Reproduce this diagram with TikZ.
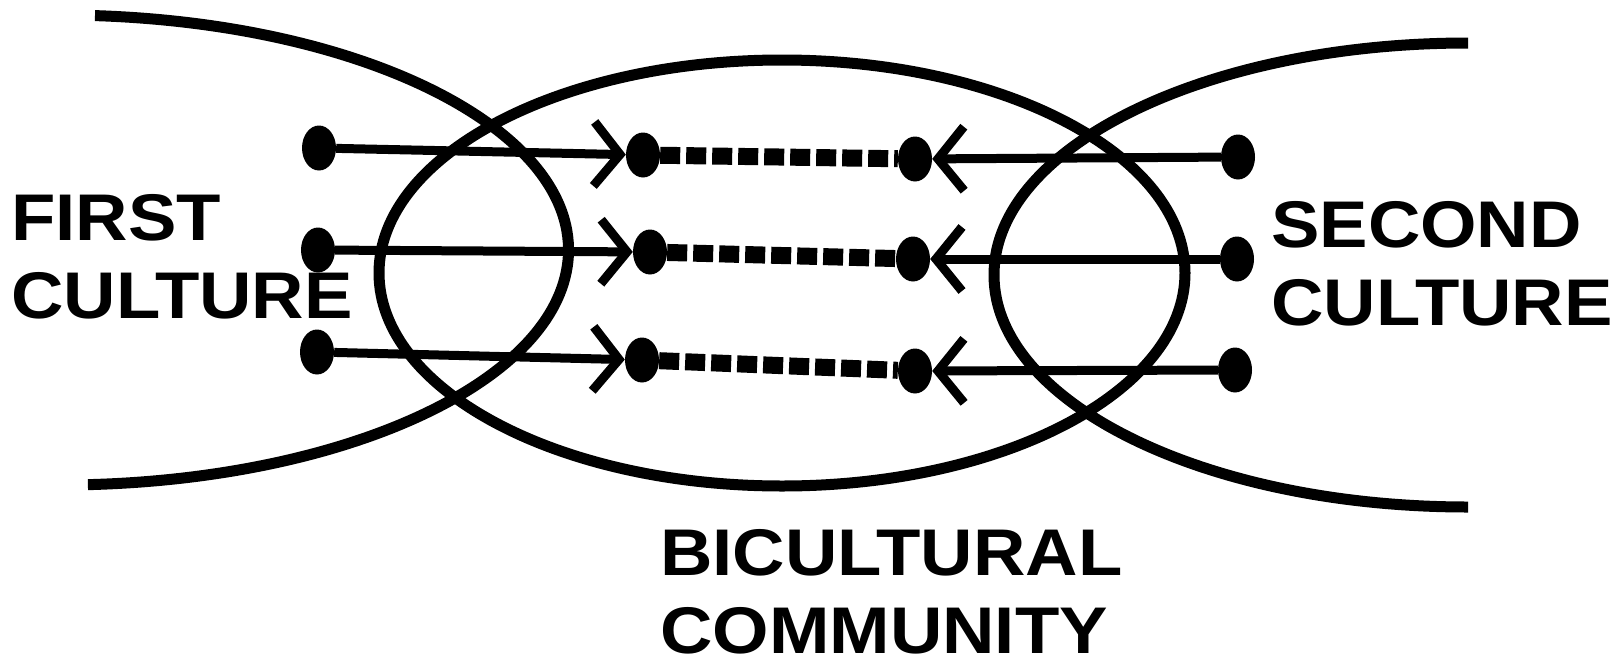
\documentclass[tikz,border=0pt]{standalone}
\usepackage{fontspec}
\setmainfont{Liberation Sans}[FakeStretch=1.1]
\usetikzlibrary{arrows.meta,shapes.geometric}
\tikzset{
  rim/.style={line width=11pt},
  dot/.style={ellipse, fill=black, inner sep=0pt, minimum width=34pt, minimum height=45pt},
  tie/.style={line width=9pt, -{Straight Barb[length=26pt, width=64pt]}},
  link/.style={line width=17pt, dash pattern=on 20pt off 6pt},
  lbl/.style={anchor=north west, align=left, inner sep=0pt, font=\fontsize{66}{78}\selectfont\bfseries},
}
\begin{document}
\begin{tikzpicture}[x=1pt, y=-1pt]
\useasboundingbox (0,0) rectangle (1621,664);
% the two cultures and the community between them
\draw[rim] (95,15.6) arc[start angle=86, end angle=-86.8, x radius=509pt, y radius=235pt];
\draw[rim] (1468,43) arc[start angle=90, end angle=270, x radius=474pt, y radius=232pt];
\draw[rim] (782,273) ellipse[x radius=403pt, y radius=213pt];
\node[dot] (f1) at (319,148) {};
\node[dot] (f2) at (318,250) {};
\node[dot] (f3) at (317,352) {};
\node[dot] (b1) at (643,155) {};
\node[dot] (b2) at (650,252) {};
\node[dot] (b3) at (642,360) {};
\node[dot] (c1) at (915,159) {};
\node[dot] (c2) at (913,259) {};
\node[dot] (c3) at (915,371) {};
\node[dot] (s1) at (1238,157) {};
\node[dot] (s2) at (1237,259) {};
\node[dot] (s3) at (1235,370) {};
\draw[tie] (f1) -- (b1); \draw[tie] (s1) -- (c1);
\draw[tie] (f2) -- (b2); \draw[tie] (s2) -- (c2);
\draw[tie] (f3) -- (b3); \draw[tie] (s3) -- (c3);
\draw[link] (b1) -- (c1);
\draw[link] (b2) -- (c2);
\draw[link] (b3) -- (c3);
\node[lbl] (first) at (11,194) {FIRST\\CULTURE};
\node[lbl] (second) at (1271,201) {SECOND\\CULTURE};
\node[lbl] (bicult) at (660,529) {BICULTURAL\\COMMUNITY};
\end{tikzpicture}
\end{document}
